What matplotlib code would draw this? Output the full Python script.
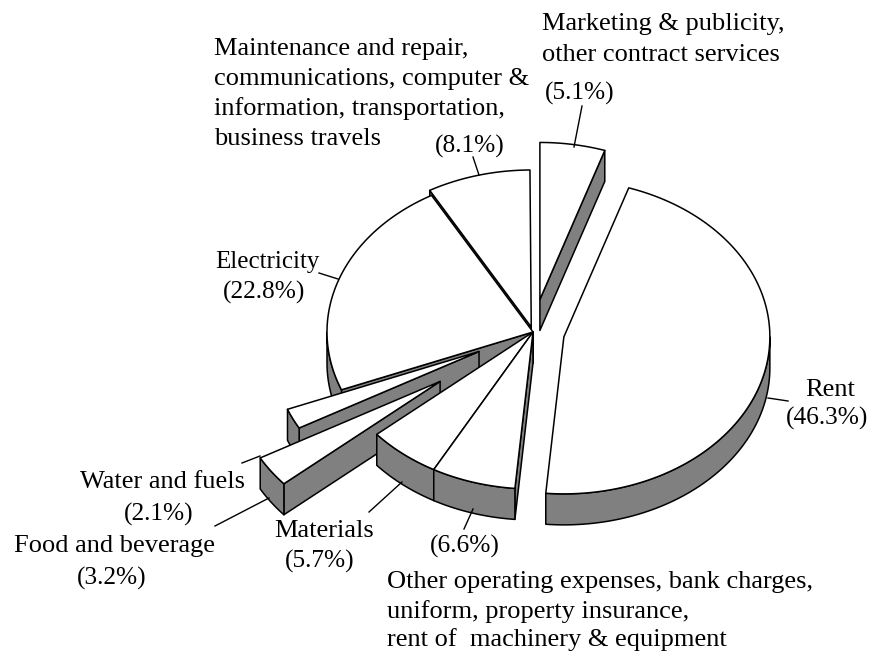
import numpy as np
import matplotlib
matplotlib.use("Agg")
import matplotlib.pyplot as plt
from matplotlib.patches import Polygon

# ── Data ──────────────────────────────────────────────────────────────────────
# clockwise from 12 o'clock
slices = ["Marketing", "Rent", "Other", "Materials", "Food", "Water",
          "Electricity", "Maintenance"]
shares = [5.1, 46.3, 6.6, 5.7, 3.2, 2.1, 22.8, 8.1]

# ── Layout (canvas pixels) ────────────────────────────────────────────────────
CX, CY = 533, 332
RX, RY = 206, 157
DEPTH = 31
GREY = "#808080"
LW = 1.1
TEXT_SIZE = 19
PCT_SIZE = 18.3

explode = {"Marketing": 0.21, "Rent": 0.153, "Food": 0.55, "Water": 0.29,
           "Maintenance": 0.033}
draw_order = ["Maintenance", "Electricity", "Marketing", "Water", "Food",
              "Materials", "Other", "Rent"]

labels = [
    (214, 55, "Maintenance and repair,", "left", TEXT_SIZE),
    (214, 85, "communications, computer &", "left", TEXT_SIZE),
    (214, 115, "information, transportation,", "left", TEXT_SIZE),
    (214, 145, "business travels", "left", TEXT_SIZE),
    (470, 153, "(8.1%)", "center", PCT_SIZE),
    (542, 30, "Marketing & publicity,", "left", TEXT_SIZE),
    (542, 61, "other contract services", "left", TEXT_SIZE),
    (580, 100, "(5.1%)", "center", PCT_SIZE),
    (267, 268, "Electricity", "center", 18),
    (264, 299, "(22.8%)", "center", PCT_SIZE),
    (830, 396, "Rent", "center", TEXT_SIZE),
    (827, 425, "(46.3%)", "center", PCT_SIZE),
    (162, 488, "Water and fuels", "center", TEXT_SIZE),
    (159, 521, "(2.1%)", "center", PCT_SIZE),
    (114, 552, "Food and beverage", "center", TEXT_SIZE),
    (112, 585, "(3.2%)", "center", PCT_SIZE),
    (324, 537, "Materials", "center", TEXT_SIZE),
    (320, 568, "(5.7%)", "center", PCT_SIZE),
    (465, 553, "(6.6%)", "center", PCT_SIZE),
    (387, 588, "Other operating expenses, bank charges,", "left", TEXT_SIZE),
    (387, 618, "uniform, property insurance,", "left", TEXT_SIZE),
    (387, 646, "rent of  machinery & equipment", "left", TEXT_SIZE),
]
leaders = [
    ((582, 106), (574, 147)),
    ((473, 157), (479, 175)),
    ((319, 273), (338, 279)),
    ((768, 398), (788, 401)),
    ((242, 463), (260, 456)),
    ((215, 526), (269, 498)),
    ((369, 512), (402, 482)),
    ((464, 529), (473, 509)),
]


def rim(cx, cy, t0, t1):
    t = np.linspace(t0, t1, max(int(np.degrees(t1 - t0)), 2) + 1)
    return np.column_stack([cx + RX * np.sin(t), cy - RY * np.cos(t)])


def draw_slice(ax, t0, t1, pull):
    mid = (t0 + t1) / 2
    cx = CX + pull * RX * np.sin(mid)
    cy = CY - pull * RY * np.cos(mid)
    down = np.array([0, DEPTH])
    apex = np.array([cx, cy])
    arc = rim(cx, cy, t0, t1)

    def face(pts):
        ax.add_patch(Polygon(pts, closed=True, fc=GREY, ec="black", lw=LW,
                             joinstyle="round"))

    # cut faces that turn toward the viewer
    if np.sin(t0) < 0:
        face([apex, arc[0], arc[0] + down, apex + down])
    if np.sin(t1) > 0:
        face([apex, arc[-1], arc[-1] + down, apex + down])

    # outer wall, only the front half of the ellipse shows
    lo, hi = max(t0, np.pi / 2), min(t1, 3 * np.pi / 2)
    if hi > lo:
        wall = rim(cx, cy, lo, hi)
        face(np.vstack([wall, wall[::-1] + down]))

    ax.add_patch(Polygon(np.vstack([apex, arc]), closed=True, fc="white",
                         ec="black", lw=LW, joinstyle="round"))


plt.rcParams["font.family"] = ["Liberation Serif", "DejaVu Serif"]
fig = plt.figure(figsize=(8.69, 6.52), dpi=100)
ax = fig.add_axes([0, 0, 1, 1])
ax.set_xlim(0, 869)
ax.set_ylim(652, 0)
ax.axis("off")

edges = np.radians(np.cumsum([0] + shares) * 3.6)
angle_of = {n: (edges[i], edges[i + 1]) for i, n in enumerate(slices)}

for name in draw_order:
    draw_slice(ax, *angle_of[name], explode.get(name, 0))

for p, q in leaders:
    ax.plot([p[0], q[0]], [p[1], q[1]], color="black", lw=1.0)

for x, y, s, ha, size in labels:
    ax.text(x, y, s, ha=ha, va="baseline", fontsize=size, color="black")

fig.savefig("out.png", dpi=100)
plt.close(fig)
